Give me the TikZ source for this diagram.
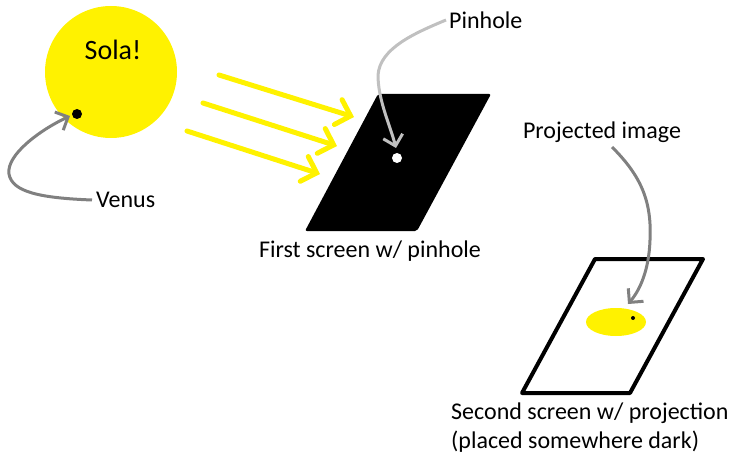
\documentclass[tikz,border=0pt]{standalone}
\usepackage{fontspec}
\setmainfont{Carlito}
\usetikzlibrary{arrows.meta}
\definecolor{sunyellow}{HTML}{FFF200}
\definecolor{arrgray}{HTML}{808080}
\definecolor{lightarr}{HTML}{C0C0C0}
\tikzset{
  ray/.style={draw=sunyellow, line width=5pt, line cap=round, -{Straight Barb[length=13pt,width=26pt,line cap=round]}},
  pointer/.style={draw=arrgray, line width=3pt, -{Straight Barb[length=10pt,width=20pt]}},
  lbl/.style={font=\fontsize{24}{29}\selectfont, inner sep=0pt, text=black}
}
\begin{document}
\begin{tikzpicture}[x=1pt,y=-1pt]
\useasboundingbox (0,0) rectangle (738,465);
% Sun
\fill[sunyellow] (111,72) circle (66);
\node[lbl, font=\fontsize{28}{32}\selectfont] (sola) at (113,50) {Sola!};
\fill[black] (77,114) circle (5);
\coordinate (venusdot) at (70,116);
\node[lbl, anchor=west] (venus) at (96,200) {Venus};
\draw[pointer] ([xshift=-4pt]venus.west) .. controls (40,198) and (12,192) .. (9,174) .. controls (6,155) and (40,130) .. (venusdot);
% rays
\coordinate (r1s) at (219,75); \coordinate (r1e) at (354,117);
\coordinate (r2s) at (203,103); \coordinate (r2e) at (337,146);
\coordinate (r3s) at (187,131); \coordinate (r3e) at (320,174);
\draw[ray] (r1s) -- (r1e);
\draw[ray] (r2s) -- (r2e);
\draw[ray] (r3s) -- (r3e);
% first screen
\fill[black, rounded corners=2pt] (378,94) -- (491,94) -- (417,231) -- (305,231) -- cycle;
\fill[white] (397,158) circle (5);
\coordinate (pinholept) at (396,148);
\node[lbl, anchor=west] (pinhole) at (449,20) {Pinhole};
\draw[pointer, draw=lightarr] ([xshift=-3pt]pinhole.west) .. controls (415,33) and (380,48) .. (378,75) .. controls (378,100) and (390,125) .. (pinholept);
\node[lbl] (first) at (370,251) {First screen w/ pinhole};
% second screen
\draw[black, line width=4pt, line join=round] (595,259) -- (703,259) -- (630,393) -- (522,393) -- cycle;
\fill[sunyellow] (616,322) ellipse (30 and 14);
\fill[black] (633,318) circle (2);
\coordinate (projpt) at (628,304);
\node[lbl] (proj) at (602,132) {Projected image};
\draw[pointer] (612,147) .. controls (640,175) and (652,200) .. (650,240) .. controls (649,270) and (640,290) .. (projpt);
\node[lbl, anchor=west, align=left] (second) at (451,428) {Second screen w/ projection\\(placed somewhere dark)};
\end{tikzpicture}
\end{document}
